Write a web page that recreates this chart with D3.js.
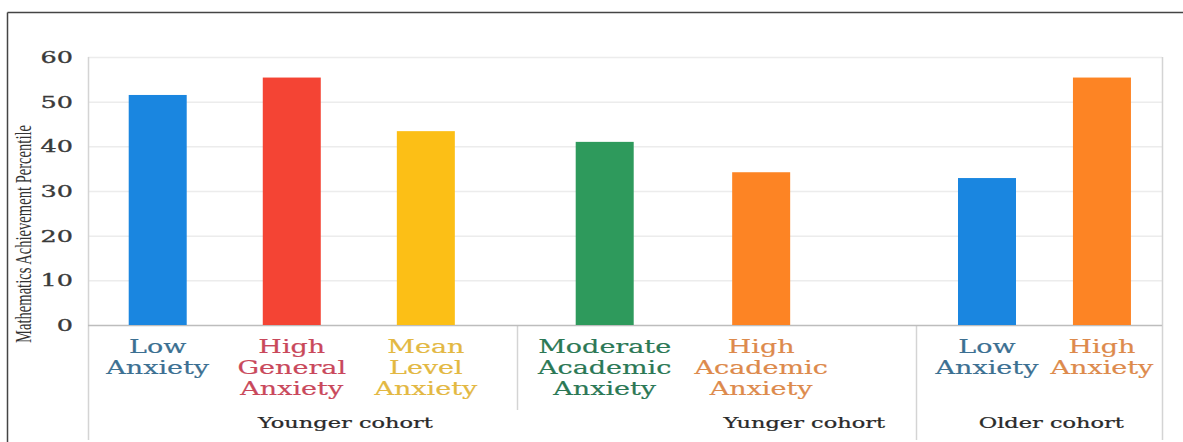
<!DOCTYPE html>
<html>
<head>
<meta charset="utf-8">
<script src="https://cdn.jsdelivr.net/npm/d3@7"></script>
<style>
  html, body { margin: 0; padding: 0; background: #fff; }
  #main-diagram { width: 1183px; height: 442px; }
</style>
</head>
<body>
<div id="main-diagram"></div>
<script>
// the values
const categories = ["Low Anxiety", "High General Anxiety", "Mean Level Anxiety",
  "Moderate Academic Anxiety", "High Academic Anxiety", "Low Anxiety", "High Anxiety"];
const labelLines = [
  ["Low", "Anxiety"],
  ["High", "General", "Anxiety"],
  ["Mean", "Level", "Anxiety"],
  ["Moderate", "Academic", "Anxiety"],
  ["High", "Academic", "Anxiety"],
  ["Low", "Anxiety"],
  ["High", "Anxiety"],
];
const cohorts = ["Younger cohort", "Younger cohort", "Younger cohort",
  "Yunger cohort", "Yunger cohort", "Older cohort", "Older cohort"];
const groupNames = ["Younger cohort", "Yunger cohort", "Older cohort"];
const values = [51.5, 55.4, 43.4, 41.0, 34.2, 32.9, 55.4];
const yTicks = [0, 10, 20, 30, 40, 50, 60];

// colours for bars and their labels
const barColours = ["#1a86e0", "#f44434", "#fcbf16", "#2e9a5c", "#fd8424", "#1a86e0", "#fd8424"];
const labelColours = ["#3c7092", "#c9485b", "#e3b842", "#2b7855", "#dd8a4c", "#3c7092", "#dd8a4c"];

// layout of the plot (the picture is stretched sideways, so text is too)
const width = 1183;
const height = 442;
const plot = { left: 88, right: 1162, top: 57, bottom: 325 };
const groupEdges = [88, 517, 916, 1162];
// each cohort gets its own band scale, tuned to how it sits in the picture
const groupBands = [
  { paddingOuter: 0.1, align: 0.1, labelAt: 0.6 },
  { paddingOuter: 0.275, align: 0.11, labelAt: 0.72 },
  { paddingOuter: 0.07, align: 0.84, labelAt: 0.55 },
];
const barWidth = 58;
const stretch = 1.5;
const serif = "'DejaVu Serif', serif";

const svg = d3
  .select("#main-diagram")
  .append("svg")
  .attr("width", width)
  .attr("height", height);

// outer frame: only top and left edges are visible
svg.append("line")
  .attr("x1", 7.5).attr("y1", 12.5).attr("x2", width).attr("y2", 12.5)
  .style("stroke", "#444").style("stroke-width", 1.5);
svg.append("line")
  .attr("x1", 7.5).attr("y1", 12.5).attr("x2", 7.5).attr("y2", height)
  .style("stroke", "#444").style("stroke-width", 1.5);

const yScale = d3.scaleLinear().domain([0, 60]).range([plot.bottom, plot.top]);

// build x positions: one band scale per cohort
const xCentre = [];
groupNames.forEach(function (g, gi) {
  const idx = d3.range(categories.length).filter(i => cohorts[i] === g);
  const band = d3
    .scaleBand()
    .domain(idx)
    .range([groupEdges[gi], groupEdges[gi + 1]])
    .paddingInner(0)
    .paddingOuter(groupBands[gi].paddingOuter)
    .align(groupBands[gi].align);
  idx.forEach(i => { xCentre[i] = band(i) + band.bandwidth() / 2; });
});

drawGrid();
drawBars();
drawCategoryLabels();
drawYAxis();

/**
 * light horizontal gridlines, frame of the plot and the cohort separators
 */
function drawGrid() {
  svg.append("g")
    .selectAll("line")
    .data(yTicks.filter(t => t > 0))
    .enter()
    .append("line")
    .attr("x1", plot.left).attr("x2", plot.right)
    .attr("y1", d => yScale(d) + 0.5).attr("y2", d => yScale(d) + 0.5)
    .style("stroke", "#ececec").style("stroke-width", 1.5);

  // left and right edges run down into the label area
  [plot.left, plot.right].forEach(function (x) {
    svg.append("line")
      .attr("x1", x + 0.5).attr("x2", x + 0.5)
      .attr("y1", plot.top).attr("y2", 440)
      .style("stroke", "#d4d4d4").style("stroke-width", 1.5);
  });

  // separators between cohorts
  svg.append("line")
    .attr("x1", groupEdges[1] + 0.5).attr("x2", groupEdges[1] + 0.5)
    .attr("y1", plot.bottom).attr("y2", 410)
    .style("stroke", "#d4d4d4").style("stroke-width", 1.5);
  svg.append("line")
    .attr("x1", groupEdges[2] + 0.5).attr("x2", groupEdges[2] + 0.5)
    .attr("y1", plot.bottom).attr("y2", 440)
    .style("stroke", "#d4d4d4").style("stroke-width", 1.5);

  // category axis line at zero
  svg.append("line")
    .attr("x1", plot.left).attr("x2", plot.right)
    .attr("y1", yScale(0) + 0.5).attr("y2", yScale(0) + 0.5)
    .style("stroke", "#bdbdbd").style("stroke-width", 1.5);
}

function drawBars() {
  svg.append("g")
    .selectAll("rect")
    .data(values)
    .enter()
    .append("rect")
    .attr("x", (d, i) => xCentre[i] - barWidth / 2)
    .attr("y", d => yScale(d))
    .attr("width", barWidth)
    .attr("height", d => yScale(0) - yScale(d))
    .attr("fill", (d, i) => barColours[i]);
}

/**
 * stretched serif text, a thin stroke makes it as heavy as the blurry original
 */
function stretchedText(parent, x, y, txt, size, colour, anchor, weight) {
  parent.append("text")
    .attr("transform", `translate(${x},${y}) scale(${stretch},1)`)
    .attr("text-anchor", anchor || "middle")
    .style("font-family", serif)
    .style("font-size", size + "px")
    .style("fill", colour)
    .style("stroke", colour)
    .style("stroke-width", weight || 0.2)
    .text(txt);
}

function drawCategoryLabels() {
  const g = svg.append("g");
  labelLines.forEach(function (lines, i) {
    lines.forEach(function (line, li) {
      stretchedText(g, xCentre[i], 353 + li * 21, line, 18, labelColours[i]);
    });
  });

  // cohort names under the category labels
  groupNames.forEach(function (name, gi) {
    const x = groupEdges[gi] + (groupEdges[gi + 1] - groupEdges[gi]) * groupBands[gi].labelAt;
    stretchedText(g, x, 428, name, 15, "#2a2a2a", "middle", 0.25);
  });
}

function drawYAxis() {
  const g = svg.append("g");
  yTicks.forEach(function (t) {
    stretchedText(g, 73, yScale(t) + 6, t, 17, "#3a3a3a", "end", 0.35);
  });

  // axis title, narrow along its length like in the picture
  svg.append("text")
    .attr("transform", `translate(31,234) scale(${stretch},1) rotate(-90)`)
    .attr("text-anchor", "middle")
    .attr("textLength", 218)
    .attr("lengthAdjust", "spacingAndGlyphs")
    .style("font-family", "'Liberation Serif', serif")
    .style("font-size", "15px")
    .style("fill", "#333")
    .text("Mathematics Achievement Percentile");
}
</script>
</body>
</html>
